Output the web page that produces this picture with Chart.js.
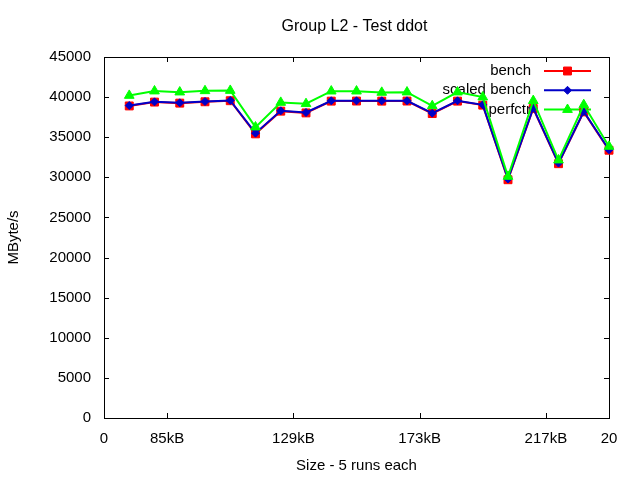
<!DOCTYPE html>
<html>
<head>
<meta charset="utf-8">
<title>Group L2 - Test ddot</title>
<script src="https://cdn.jsdelivr.net/npm/chart.js@4/dist/chart.umd.min.js"></script>
<style>
  html, body { margin: 0; padding: 0; background: #fff; }
  #graph { width: 640px; height: 480px; }
</style>
</head>
<body>
<div id="graph"><canvas width="640" height="480"></canvas></div>
<script>
const runIndex = [1, 2, 3, 4, 5, 6, 7, 8, 9, 10, 11, 12, 13, 14, 15, 16, 17, 18, 19, 20];
const bench = [38900, 39380, 39250, 39420, 39550, 35420, 38250, 38030, 39500, 39510,
               39500, 39510, 37950, 39500, 39000, 29700, 38580, 31700, 38160, 33380];
const scaledBench = [38950, 39410, 39290, 39450, 39580, 35510, 38290, 38080, 39540, 39540,
                     39540, 39540, 38000, 39540, 39040, 29790, 38630, 31780, 38210, 33440];
const perfctr = [40200, 40750, 40620, 40780, 40820, 36260, 39330, 39170, 40740, 40740,
                 40580, 40620, 38910, 40620, 40000, 30110, 39550, 32150, 39040, 33850];

// graduations de l'axe x
const xTickValues = [0, 2.5, 7.5, 12.5, 17.5, 20];
const xTickLabels = ["0", "85kB", "129kB", "173kB", "217kB", "20"];

const chartTitle = "Group L2 - Test ddot";
const FONT = "'Liberation Sans', Arial, sans-serif";

function toPoints(values) {
  return values.map((v, i) => ({ x: runIndex[i], y: v }));
}

// cadre façon gnuplot : titre centré sur la zone du graphe, boîte,
// graduations vers l'intérieur et légende dans le coin haut droit
const gnuplotFrame = {
  id: "gnuplotFrame",
  beforeDatasetsDraw(chart) {
    const { ctx, chartArea: a, scales } = chart;
    const tick = 5;
    ctx.save();

    ctx.fillStyle = "#000";
    ctx.font = "16px " + FONT;
    ctx.textAlign = "center";
    ctx.textBaseline = "middle";
    ctx.fillText(chartTitle, (a.left + a.right) / 2 - 2, 27);

    ctx.strokeStyle = "#000";
    ctx.lineWidth = 1;
    ctx.beginPath();
    scales.y.ticks.forEach((t) => {
      const y = Math.round(scales.y.getPixelForValue(t.value)) + 0.5;
      ctx.moveTo(a.left, y); ctx.lineTo(a.left + tick, y);
      ctx.moveTo(a.right, y); ctx.lineTo(a.right - tick, y);
    });
    scales.x.ticks.forEach((t) => {
      const x = Math.round(scales.x.getPixelForValue(t.value)) + 0.5;
      ctx.moveTo(x, a.bottom); ctx.lineTo(x, a.bottom - tick);
      ctx.moveTo(x, a.top); ctx.lineTo(x, a.top + tick);
    });
    ctx.stroke();
    ctx.strokeRect(Math.round(a.left) + 0.5, Math.round(a.top) + 0.5,
      Math.round(a.right - a.left), Math.round(a.bottom - a.top));

    // légende
    ctx.font = "15px " + FONT;
    ctx.textAlign = "right";
    chart.data.datasets.forEach((ds, i) => {
      const y = 71 + i * 19.3;
      ctx.fillStyle = "#000";
      ctx.fillText(ds.label, 531, y);
      ctx.strokeStyle = ds.borderColor;
      ctx.lineWidth = ds.borderWidth;
      ctx.beginPath();
      ctx.moveTo(544, y); ctx.lineTo(591, y);
      ctx.stroke();
      ctx.fillStyle = ds.pointBackgroundColor;
      ctx.strokeStyle = ds.pointBorderColor;
      ctx.lineWidth = 1;
      Chart.helpers.drawPoint(ctx, { pointStyle: ds.pointStyle, radius: ds.pointRadius, borderWidth: 1 }, 567.5, y);
    });
    ctx.restore();
  },
};

const config = {
  type: "line",
  data: {
    datasets: [
      {
        label: "bench",
        data: toPoints(bench),
        borderColor: "#ff0000",
        borderWidth: 2,
        pointStyle: "rect",
        pointRadius: 5.6,
        pointBackgroundColor: "#ff0000",
        pointBorderColor: "#ff0000",
        pointBorderWidth: 1,
        order: 3,
        clip: false,
      },
      {
        label: "scaled bench",
        data: toPoints(scaledBench),
        borderColor: "#0000c8",
        borderWidth: 2,
        pointStyle: "rectRot",
        pointRadius: 4,
        pointBackgroundColor: "#0000c8",
        pointBorderColor: "#0000c8",
        pointBorderWidth: 1,
        order: 2,
        clip: false,
      },
      {
        label: "perfctr",
        data: toPoints(perfctr),
        borderColor: "#00ff00",
        borderWidth: 2,
        pointStyle: "triangle",
        pointRadius: 5.6,
        pointBackgroundColor: "#00ff00",
        pointBorderColor: "#00ff00",
        pointBorderWidth: 1,
        order: 1,
        clip: false,
      },
    ],
  },
  options: {
    responsive: false,
    animation: false,
    layout: { padding: { top: 57, right: 31, bottom: 0, left: 0 } },
    plugins: {
      legend: { display: false },
      tooltip: { enabled: false },
      title: { display: false },
    },
    scales: {
      x: {
        type: "linear",
        min: 0,
        max: 20,
        grid: { display: false, drawTicks: false },
        border: { display: false },
        afterBuildTicks: (scale) => {
          scale.ticks = xTickValues.map((v) => ({ value: v }));
        },
        afterFit: (scale) => { scale.height = 62; },
        ticks: {
          autoSkip: false,
          maxRotation: 0,
          padding: 12,
          color: "#000",
          font: { family: FONT, size: 15 },
          callback: (value, index) => xTickLabels[index],
        },
        title: {
          display: true,
          text: "Size - 5 runs each",
          color: "#000",
          font: { family: FONT, size: 15 },
          padding: { top: 0, bottom: 5 },
        },
      },
      y: {
        min: 0,
        max: 45000,
        grid: { display: false, drawTicks: false },
        border: { display: false },
        afterFit: (scale) => { scale.width = 104; },
        ticks: {
          stepSize: 5000,
          padding: 13,
          color: "#000",
          font: { family: FONT, size: 15 },
          callback: (value) => String(value),
        },
        title: {
          display: true,
          text: "MByte/s",
          color: "#000",
          font: { family: FONT, size: 15 },
          padding: { top: 5, bottom: 0 },
        },
      },
    },
  },
  plugins: [gnuplotFrame],
};

const chart = new Chart(document.querySelector("#graph canvas"), config);
</script>
</body>
</html>
